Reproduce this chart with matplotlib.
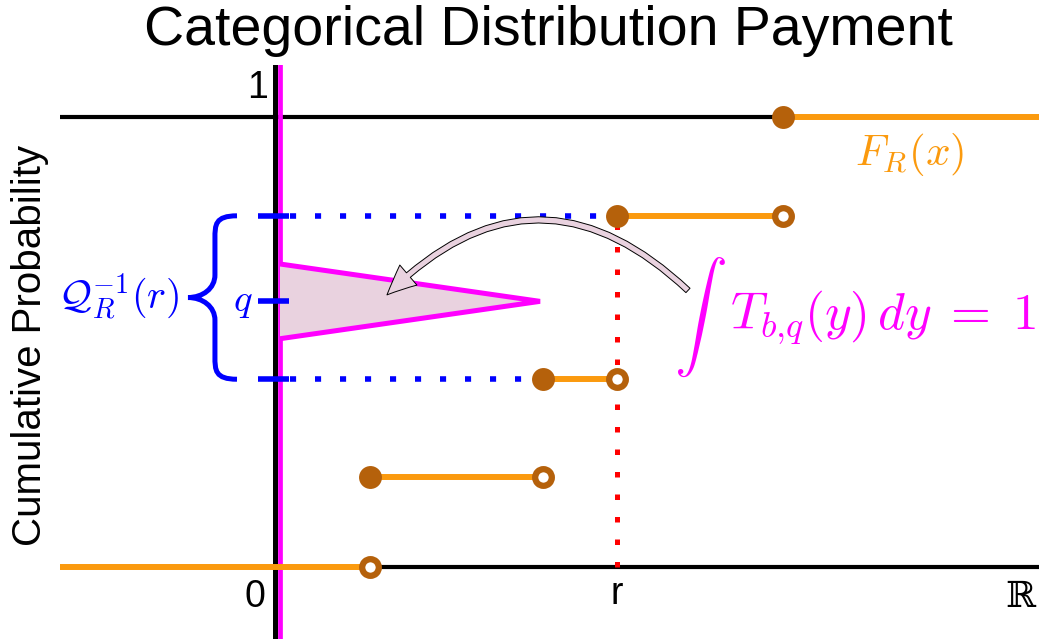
import numpy as np
import matplotlib.pyplot as plt
from matplotlib.path import Path
from matplotlib.patches import PathPatch, Polygon, FancyArrowPatch

plt.rcParams['font.family'] = ['Liberation Sans', 'DejaVu Sans']
plt.rcParams['mathtext.fontset'] = 'cm'

# step CDF of the categorical payment
breaks = [0.95, 2.68, 3.42, 5.08]          # category values (jump points)
levels = [0.0, 0.20, 0.417, 0.78, 1.0]     # cumulative probability after each jump
x_left, x_right = -2.15, 7.65

r_value = 3.42                             # realised value r
q_value = 0.59                             # centre of the payment triangle
tri_half = 0.083                           # half height of the triangle at the axis
tri_tip = 2.65                             # how far the triangle reaches right

ORANGE = '#fb9a0e'
BROWN = '#b5610b'
MAGENTA = '#ff00ff'
PINK = '#e9d2df'
BLUE = '#0000ff'


def draw_brace(ax, x_end, y0, y1, width, **kw):
    """Left-pointing curly brace between y0 and y1, ends at x_end."""
    xs = x_end - 0.45 * width
    xt = x_end - width
    ym = 0.5 * (y0 + y1)
    c = 0.05 * (y1 - y0) / 0.36
    verts = [
        (x_end, y1),
        (xs, y1), (xs, y1 - c * 0.4), (xs, y1 - c),
        (xs, ym + c),
        (xs, ym + c * 0.4), (xt + 0.3 * width, ym), (xt, ym),
        (xt + 0.3 * width, ym), (xs, ym - c * 0.4), (xs, ym - c),
        (xs, y0 + c),
        (xs, y0 + c * 0.4), (xs, y0), (x_end, y0),
    ]
    codes = [Path.MOVETO,
             Path.CURVE4, Path.CURVE4, Path.CURVE4,
             Path.LINETO,
             Path.CURVE4, Path.CURVE4, Path.CURVE4,
             Path.CURVE4, Path.CURVE4, Path.CURVE4,
             Path.LINETO,
             Path.CURVE4, Path.CURVE4, Path.CURVE4]
    ax.add_patch(PathPatch(Path(verts, codes), fill=False, **kw))


fig = plt.figure(figsize=(10.39, 6.39), dpi=100)
ax = fig.add_axes([55 / 1039, 0, 985 / 1039, 574 / 639])
ax.set_xlim(-2.2, 7.65)
ax.set_ylim(-0.16, 1.115)
ax.axis('off')

# axes lines
ax.plot([x_left, x_right], [0, 0], color='black', lw=3, zorder=1, solid_capstyle='butt')
ax.plot([x_left, x_right], [1, 1], color='black', lw=3, zorder=1, solid_capstyle='butt')
ax.axvline(0, color='black', lw=3.6, zorder=2)
ax.axvline(0.05, color=MAGENTA, lw=3.4, zorder=2)

# dotted guides
dots = (0, (1.1, 3.4))
ax.plot([r_value, r_value], [0, levels[3]], color='red', lw=3.6, ls=dots, zorder=3)
ax.plot([0.15, breaks[2]], [levels[3], levels[3]], color=BLUE, lw=4, ls=dots, zorder=3)
ax.plot([0.15, breaks[1]], [levels[2], levels[2]], color=BLUE, lw=4, ls=dots, zorder=3)
for yv in [levels[3], levels[2], q_value]:
    ax.plot([-0.17, 0.14], [yv, yv], color=BLUE, lw=4, solid_capstyle='butt', zorder=6)

# triangular payment density
tri = Polygon([(0.05, q_value + tri_half), (tri_tip, q_value), (0.05, q_value - tri_half)],
              closed=False, facecolor=PINK, edgecolor=MAGENTA, lw=3.6, zorder=4)
ax.add_patch(tri)

# step function
xs = [x_left] + breaks + [x_right]
for i, lv in enumerate(levels):
    ax.plot([xs[i], xs[i + 1]], [lv, lv], color=ORANGE, lw=4.3, zorder=5,
            solid_capstyle='butt')
for i, b in enumerate(breaks):
    ax.plot(b, levels[i], 'o', ms=12, mfc='white', mec=BROWN, mew=4.5, zorder=7)
    ax.plot(b, levels[i + 1], 'o', ms=16.5, color=BROWN, mew=0, zorder=7)

# brace over the quantile interval
draw_brace(ax, -0.38, levels[2], levels[3], 0.49, color=BLUE, lw=3.6, zorder=6)

# curved arrow from the integral to the triangle
arrow = FancyArrowPatch((4.15, 0.61), (1.10, 0.60),
                        connectionstyle='arc3,rad=0.49',
                        arrowstyle='simple,head_length=21,head_width=19,tail_width=4.3',
                        mutation_scale=1, facecolor=PINK, edgecolor='black', lw=0.7,
                        zorder=8)
ax.add_patch(arrow)

# labels
ax.text(-0.17, 1.065, '1', fontsize=27, ha='center', va='center')
ax.text(-0.2, -0.066, '0', fontsize=27, ha='center', va='center')
ax.text(r_value, -0.06, 'r', fontsize=27, ha='center', va='center')
ax.text(7.45, -0.066, '\u211d', fontsize=26, family='DejaVu Serif',
        ha='center', va='center')
ax.text(6.35, 0.916, r'$F_R(x)$', fontsize=31, color=ORANGE, ha='center', va='center')
ax.text(-1.57, 0.599, r'$\mathcal{Q}_R^{-1}(r)$', fontsize=29, color=BLUE,
        ha='center', va='center')
ax.text(-0.32, 0.568, r'$q$', fontsize=28, color=BLUE, ha='center', va='baseline')
ax.text(4.25, 0.554, r'$\int$', fontsize=38, color=MAGENTA, ha='center', va='center')
ax.text(4.55, 0.528, r'$T_{b{,}q}(y)\,dy\;=\;1$', fontsize=37, color=MAGENTA,
        ha='left', va='baseline')

fig.text(548 / 1039, 1 - 45 / 639, 'Categorical Distribution Payment', fontsize=40,
         ha='center', va='baseline')
fig.text(30 / 1039, 1 - 345 / 639, 'Cumulative Probability', fontsize=29,
         rotation=90, ha='center', va='center')

fig.savefig('out.png', dpi=100)
